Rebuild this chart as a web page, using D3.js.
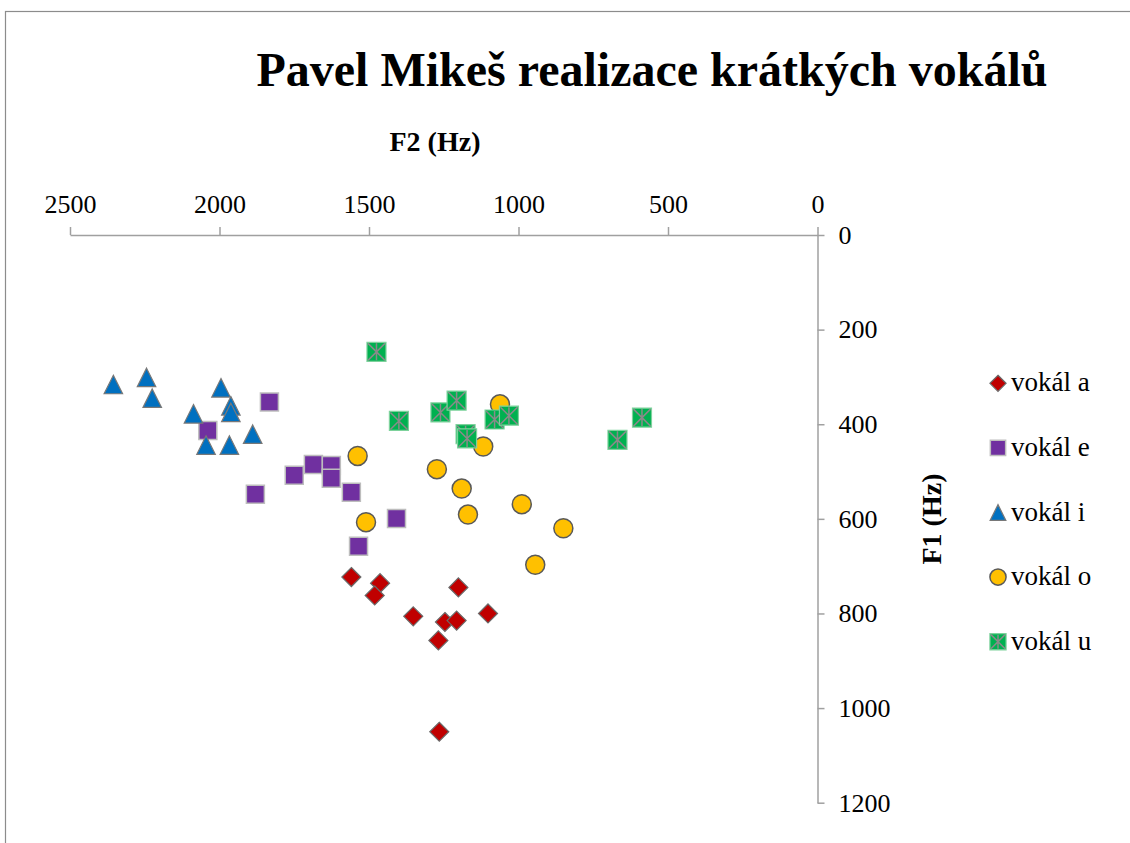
<!DOCTYPE html>
<html>
<head>
<meta charset="utf-8">
<script src="https://cdn.jsdelivr.net/npm/d3@7"></script>
<style>
  body { margin: 0; background: #fff; }
  svg text { font-family: "Liberation Serif", "Times New Roman", serif; fill: #000; }
  .axis path, .axis line { stroke: #a0a0a0; stroke-width: 1.5; }
  .axis text { font-size: 26px; }
</style>
</head>
<body>
<script>
// vowel formant data (Hz)
var seriesNames = ["vokál a", "vokál e", "vokál i", "vokál o", "vokál u"];

var f2A = [1559, 1463, 1481, 1201, 1352, 1246, 1207, 1102, 1268, 1265];
var f1A = [723, 736, 762, 745, 806, 818, 815, 800, 857, 1050];

var f2E = [1833, 2039, 1750, 1880, 1686, 1626, 1626, 1559, 1408, 1535];
var f1E = [353, 413, 508, 548, 485, 487, 514, 544, 599, 658];

var f2I = [2355, 2244, 2225, 1995, 1962, 1962, 2087, 1889, 2045, 1967];
var f1I = [316, 301, 345, 323, 361, 375, 378, 421, 444, 444];

var f2O = [1538, 1062, 1118, 1273, 1190, 1169, 989, 850, 944, 1510];
var f1O = [467, 358, 447, 495, 536, 591, 569, 620, 697, 607];

var f2U = [1475, 1400, 1261, 1207, 1177, 1172, 1080, 1032, 669, 587];
var f1U = [247, 393, 375, 350, 421, 430, 390, 382, 433, 386];

var xTicks = [2500, 2000, 1500, 1000, 500, 0];
var yTicks = [0, 200, 400, 600, 800, 1000, 1200];

var serif = "'Liberation Serif', 'Times New Roman', serif";

var width = 1130,
    height = 843;

var svg = d3.select("body")
    .append("svg")
    .attr("width", width)
    .attr("height", height)
    .attr("font-family", serif);

//chart area border
svg.append("rect")
    .attr("x", 5.5)
    .attr("y", 11.5)
    .attr("width", 1200)
    .attr("height", 900)
    .attr("fill", "none")
    .attr("stroke", "#8c8c8c")
    .attr("stroke-width", 1.2);

//scales: F2 reversed on top, F1 downwards
var x = d3.scaleLinear().domain([2500, 0]).range([70, 817.5]);
var y = d3.scaleLinear().domain([0, 1200]).range([235, 802.7]);

var xAxis = svg.append("g")
    .attr("class", "axis")
    .attr("transform", "translate(0," + y(0) + ")")
    .call(d3.axisTop(x).tickValues(xTicks).tickSize(8).tickSizeOuter(0).tickPadding(14).tickFormat(d3.format("d")));

var yAxis = svg.append("g")
    .attr("class", "axis")
    .attr("transform", "translate(" + x(0) + ",0)")
    .call(d3.axisRight(y).tickValues(yTicks).tickSize(7).tickSizeOuter(0).tickPadding(14).tickFormat(d3.format("d")));

//d3 puts sans-serif on the axis groups, switch back to serif
xAxis.attr("font-family", serif).attr("font-size", 26);
yAxis.attr("font-family", serif).attr("font-size", 26);

//titles
svg.append("text")
    .attr("x", 652)
    .attr("y", 86)
    .attr("text-anchor", "middle")
    .style("font-size", "48px")
    .style("font-weight", "bold")
    .text("Pavel Mikeš realizace krátkých vokálů");

svg.append("text")
    .attr("x", 435)
    .attr("y", 151)
    .attr("text-anchor", "middle")
    .style("font-size", "28px")
    .style("font-weight", "bold")
    .text("F2 (Hz)");

svg.append("text")
    .attr("transform", "translate(941,519) rotate(-90)")
    .attr("text-anchor", "middle")
    .style("font-size", "28px")
    .style("font-weight", "bold")
    .text("F1 (Hz)");

//custom marker shapes, size = side length in px
var diamond = { draw: function(c, s){ var r = s / 2; c.moveTo(0, -r); c.lineTo(r, 0); c.lineTo(0, r); c.lineTo(-r, 0); c.closePath(); } };
var square = { draw: function(c, s){ var r = s / 2; c.rect(-r, -r, s, s); } };
var triangle = { draw: function(c, s){ var r = s / 2; c.moveTo(0, -r); c.lineTo(r, r); c.lineTo(-r, r); c.closePath(); } };
var circle = { draw: function(c, s){ var r = s / 2; c.moveTo(r, 0); c.arc(0, 0, r, 0, 2 * Math.PI); } };
var star = { draw: function(c, s){ var r = s / 2 - 1; c.moveTo(-r, -r); c.lineTo(r, r); c.moveTo(r, -r); c.lineTo(-r, r); c.moveTo(0, -r); c.lineTo(0, r); } };

var styles = [
    {type: diamond, size: 19, fill: "#c00000", stroke: "#6a6a6a", sw: 1.2},
    {type: square, size: 18, fill: "#7030a0", stroke: "#bdbdbd", sw: 1.5},
    {type: triangle, size: 18.5, fill: "#0070c0", stroke: "#787878", sw: 1.2},
    {type: circle, size: 19, fill: "#ffc000", stroke: "#595959", sw: 1.5},
    {type: square, size: 19, fill: "#00b050", stroke: "#7ed29c", sw: 1.2}
];

var allF2 = [f2A, f2E, f2I, f2O, f2U],
    allF1 = [f1A, f1E, f1I, f1O, f1U];

function drawMarker(g, i, scale){
    var st = styles[i];
    g.append("path")
        .attr("d", d3.symbol().type(st.type).size(st.size * scale)())
        .attr("fill", st.fill)
        .attr("stroke", st.stroke)
        .attr("stroke-width", st.sw);
    if (i === 4) {
        g.append("path")
            .attr("d", d3.symbol().type(star).size(st.size * scale)())
            .attr("fill", "none")
            .attr("stroke", "#8a8a8a")
            .attr("stroke-width", 1.5);
    }
}

allF2.forEach(function(f2, i){
    var pts = f2.map(function(v, j){ return [v, allF1[i][j]]; });
    var group = svg.append("g").attr("class", "series");
    group.selectAll("g")
        .data(pts)
        .enter()
        .append("g")
        .attr("transform", function(d){ return "translate(" + x(d[0]) + "," + y(d[1]) + ")"; })
        .each(function(){ drawMarker(d3.select(this), i, 1); });
});

//legend
var legend = svg.selectAll(".legend")
    .data(seriesNames)
    .enter()
    .append("g")
    .attr("class", "legend")
    .attr("transform", function(d, i){ return "translate(998," + (383.3 + i * 64.6) + ")"; });

legend.each(function(d, i){ drawMarker(d3.select(this), i, 0.85); });

legend.append("text")
    .attr("x", 13)
    .attr("y", 8)
    .style("font-size", "27px")
    .text(function(d){ return d; });
</script>
</body>
</html>
